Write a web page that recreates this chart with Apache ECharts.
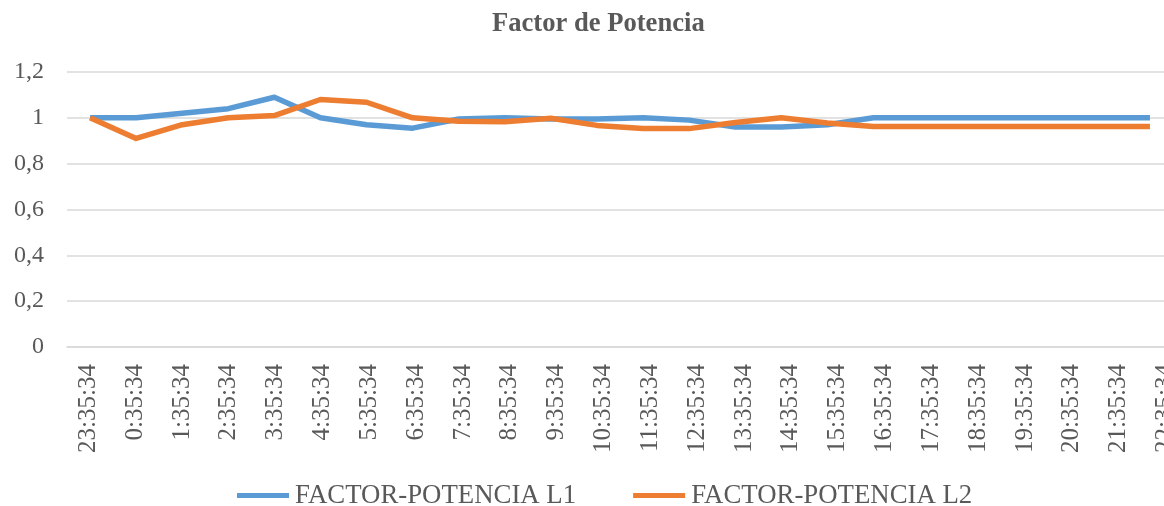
<!DOCTYPE html>
<html>
<head>
<meta charset="utf-8">
<script src="https://cdn.jsdelivr.net/npm/echarts@6/dist/echarts.min.js"></script>
<style>
  html, body { margin: 0; padding: 0; background: #ffffff; }
  #chart { width: 1164px; height: 506px; }
</style>
</head>
<body>
<div id="chart"></div>
<script>
// Hourly readings, starting 23:35:34
const categories = [
  '23:35:34', '0:35:34', '1:35:34', '2:35:34', '3:35:34', '4:35:34',
  '5:35:34', '6:35:34', '7:35:34', '8:35:34', '9:35:34', '10:35:34',
  '11:35:34', '12:35:34', '13:35:34', '14:35:34', '15:35:34', '16:35:34',
  '17:35:34', '18:35:34', '19:35:34', '20:35:34', '21:35:34', '22:35:34'
];

const factorL1 = [
  1.0, 1.0, 1.02, 1.04, 1.09, 1.0, 0.97, 0.955, 0.995, 1.0, 0.995, 0.995,
  1.0, 0.99, 0.96, 0.96, 0.97, 1.0, 1.0, 1.0, 1.0, 1.0, 1.0, 1.0
];

const factorL2 = [
  1.0, 0.91, 0.97, 1.0, 1.01, 1.08, 1.068, 1.0, 0.985, 0.983, 0.998, 0.967,
  0.953, 0.953, 0.98, 1.0, 0.977, 0.962, 0.962, 0.962, 0.962, 0.962, 0.962, 0.962
];

const yTicks = { min: 0, max: 1.2, step: 0.2 };

const textColor = '#595959';
const gridColor = '#d9d9d9';
const serif = '"Liberation Serif", "Times New Roman", serif';

const chart = echarts.init(document.getElementById('chart'), null, { renderer: 'canvas' });

chart.setOption({
  animation: false,
  backgroundColor: '#ffffff',
  title: {
    text: 'Factor de Potencia',
    left: 487,
    top: 6,
    textStyle: {
      fontFamily: serif,
      fontSize: 26.6,
      fontWeight: 'bold',
      color: textColor
    }
  },
  legend: {
    top: 477,
    left: 232,
    icon: 'rect',
    itemWidth: 52,
    itemHeight: 5,
    itemGap: 57,
    textStyle: {
      fontFamily: serif,
      fontSize: 26.8,
      color: textColor,
      padding: [0, 0, 0, 1]
    },
    data: ['FACTOR-POTENCIA L1', 'FACTOR-POTENCIA L2']
  },
  grid: [
    // plotting area for the two series; it runs a little past the right edge
    { left: 67, right: -9, top: 72, bottom: 159, outerBoundsMode: 'none', containLabel: false },
    // band used for the time labels under the plot
    { left: 65, right: -25, top: 72, bottom: 159, outerBoundsMode: 'none', containLabel: false }
  ],
  xAxis: [
    {
      type: 'category',
      gridIndex: 0,
      data: categories,
      boundaryGap: true,
      axisLine: { show: true, lineStyle: { color: gridColor, width: 1.5 } },
      axisTick: { show: false },
      axisLabel: { show: false },
      splitLine: { show: false }
    },
    {
      type: 'category',
      gridIndex: 1,
      data: categories,
      boundaryGap: true,
      axisLine: { show: false },
      axisTick: { show: false },
      axisLabel: {
        rotate: 90,
        interval: 0,
        margin: 17,
        fontFamily: serif,
        fontSize: 25,
        color: textColor
      },
      splitLine: { show: false }
    }
  ],
  yAxis: [
    {
      type: 'value',
      gridIndex: 0,
      min: yTicks.min,
      max: yTicks.max,
      interval: yTicks.step,
      axisLine: { show: false },
      axisTick: { show: false },
      axisLabel: {
        margin: 23,
        fontFamily: serif,
        fontSize: 24,
        color: textColor,
        formatter: v => String(+v.toFixed(1)).replace('.', ',')
      },
      splitLine: { show: true, lineStyle: { color: gridColor, width: 1.5 } }
    },
    {
      type: 'value',
      gridIndex: 1,
      min: yTicks.min,
      max: yTicks.max,
      show: false,
      splitLine: { show: false }
    }
  ],
  series: [
    {
      name: 'FACTOR-POTENCIA L1',
      type: 'line',
      xAxisIndex: 0,
      yAxisIndex: 0,
      data: factorL1,
      symbol: 'none',
      lineStyle: { color: '#5B9BD5', width: 5.5, cap: 'butt', join: 'round' },
      itemStyle: { color: '#5B9BD5' }
    },
    {
      name: 'FACTOR-POTENCIA L2',
      type: 'line',
      xAxisIndex: 0,
      yAxisIndex: 0,
      data: factorL2,
      symbol: 'none',
      lineStyle: { color: '#ED7D31', width: 5.5, cap: 'butt', join: 'round' },
      itemStyle: { color: '#ED7D31' }
    }
  ]
});
</script>
</body>
</html>
